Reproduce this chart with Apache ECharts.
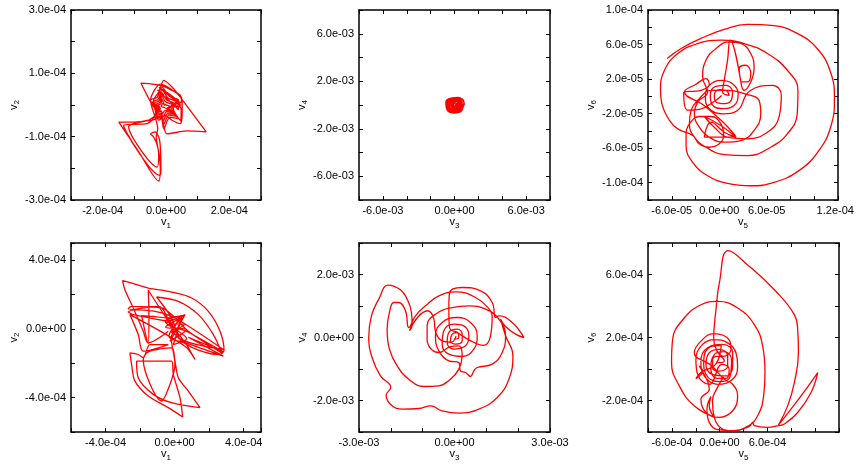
<!DOCTYPE html>
<html>
<head>
<meta charset="utf-8">
<script src="https://cdn.jsdelivr.net/npm/echarts@6/dist/echarts.min.js"></script>
<style>html,body{margin:0;padding:0;background:#fff}#c{width:859px;height:466px}</style>
</head>
<body>
<div id="c"></div>
<script>
// ---- Tick labels (actual values) ----
const P1_XTICKS = [-2e-4, 0, 2e-4];
const P1_YTICKS = [-3e-4, -1e-4, 1e-4, 3e-4];
const P2_XTICKS = [-6e-3, 0, 6e-3];
const P2_YTICKS = [-6e-3, -2e-3, 2e-3, 6e-3];
const P3_XTICKS = [-6e-5, 0, 6e-5, 1.2e-4];
const P3_YTICKS = [-1e-4, -6e-5, -2e-5, 2e-5, 6e-5, 1e-4];
const P4_XTICKS = [-4e-4, 0, 4e-4];
const P4_YTICKS = [-4e-4, 0, 4e-4];
const P5_XTICKS = [-3e-3, 0, 3e-3];
const P5_YTICKS = [-2e-3, 0, 2e-3];
const P6_XTICKS = [-6e-4, 0, 6e-4];
const P6_YTICKS = [-2e-4, 2e-4, 6e-4];

// ---- Trajectories [x, y] ----
// P1: v1 vs v2, units of 1e-5
const P1_UNIT = 1e-5;
const P1 = [[-2.3,-1.7],[-3.9,-0.6],[-6.0,3.1],[-7.3,5.7],[-7.9,6.9],[-4.9,6.7],[-1.3,6.1],[1.9,4.6],[4.5,3.1],[5.1,0.9],
[5.1,-2.7],[4.5,-5.9],[1.9,-4.8],[-0.2,-3.3],[-2.3,-4.8],[-3.4,-1.7],[-3.9,1.5],[-2.3,4.1],[-0.7,7.8],[1.9,5.7],[4.5,2.5],[12.7,-8.5],[6.6,-8.2],[0.3,-9.1],[-0.7,-6.9],[-1.3,-3.8],[-3.9,-3.8],[-5.5,-4.8],[-10.2,-5.4],[-14.9,-5.4],[-8.6,-14.8],[-2.3,-24.0],[-1.8,-19.6],[-2.6,-13.3],[-3.9,-10.1],[-4.9,-9.1],[-3.4,-8.5],[-2.0,-11.2],[-1.6,-20.5],[-2.0,-22.2],[-13.4,-6.4],[-9.2,-6.1],[-6.0,-5.9],[-4.4,-4.8],[-11.8,-6.9],[-2.8,-19.6],[-2.3,-15.4],[-3.1,-10.1],[-2.6,-7.5],
[-4.9,1.5],[-2.8,2.4],[-1.3,5.7],[1.0,2.8],[4.0,1.5],[2.3,-1.2],[4.0,-4.3],[1.2,-3.8],[-0.7,-7.5],[-1.6,-4.0],[-4.4,-4.8],[-3.0,-1.6],[-4.9,1.5],
[-1.8,6.6],[4.9,1.8],[4.7,0.8],[-2.2,5.6],[4.5,0.0],[4.2,-0.6],[-2.7,4.8],[4.0,-1.5],
[3.4,1.0],[1.8,-1.2],[3.3,-3.6],[0.9,-3.2],[-0.8,-6.2],[-1.6,-3.5],[-3.8,-4.0],[-2.7,-1.4],[-4.2,1.0],[-2.5,1.8],[-1.2,4.8],[0.6,2.2],[3.4,1.0],
[4.8,-1.5],[4.6,-5.0],[3.8,-4.0],
[2.6,-3.0],[0.5,-2.7],[-0.9,-5.0],[-1.6,-3.0],[-3.2,-3.3],[-2.4,-1.3],[-3.6,0.6],[-2.2,1.3],[-1.3,3.9],[0.2,1.6],[2.7,0.5],[1.2,-1.1],[2.6,-3.0],
[1.8,-2.4],[0.1,-2.2],[-1.0,-3.9],[-1.5,-2.5],[-2.6,-2.6],[-2.1,-1.2],[-3.0,0.3],[-1.9,0.8],[-1.3,2.9],[-0.2,1.0],[2.0,0.1],[0.7,-1.1],[1.8,-2.4],
[1.0,-1.8],[-0.4,-1.8],[-1.1,-2.8],[-1.5,-1.9],[-2.1,-2.0],[-1.8,-1.1],[-2.4,0.0],[-1.6,0.4],[-1.3,1.9],[-0.6,0.3],[1.2,-0.4],[0.2,-1.1],[1.0,-1.8],
[-0.5,-0.8],[-1.5,-0.5],[-1.0,0.5],[-0.3,-0.2]];

// P2: v3 vs v4, units of 1e-4
const P2_UNIT = 1e-4;
const P2 = [[0.5,0],[4,3.5],[0.5,6.2],[-4.5,4.8],[-7,0.5],[-5,-5],[0,-6.8],[5,-5.2],[7.5,-1],[7.8,2.5],[5,5.5],[0,6],[-5,4],[-6.5,-0.5],[-4,-5],[1,-6],[5.5,-4],[6.5,0.5],[4.5,4.5],[0,5],[-4,3],[-5.5,-1],[-3,-4.5],[1,-5],[4.5,-3],[5.5,1],[3,4],[-0.5,4],[-3.5,2],[-4,-1.5],[-1.5,-3.8],[2,-3.5],[4,-1],[3.5,2],[0.5,3],[-2,1.5],[-2.5,-1],[-0.5,-2.5],[1.5,-1.5],[2,0.5],[0.5,1.5],[-1,0.5],[-0.8,-1],[0.5,-0.8],[8.2,0.5],[7,4],[3,6.3],[-3,5.8],[-7.3,2],[-6.5,-3.5],[-3,-6.3],[2.5,-6.5],[6.5,-3.5],
[-6,2],[-3,5.5],[1.5,5.8],[5.5,3.5],[6.5,-1.5],[4,-5.5],[-1,-6.5],[-5.5,-3.8],[-6.2,1],[-4.5,3.6],[-1,4.7],[2.8,4.5],[5,2],[5,-2],[2.5,-4.8],[-1.5,-5.2],[-4.8,-2.5],[-5,0.8],[-2.8,3.3],[0.8,3.8],[3.8,2.6],[4.5,-0.5],[3,-3.5],[-0.5,-4.2],[-3.5,-2.8],[-3.8,0.5],[-1.5,2.5],[1.5,2.8],[3,0.5],[2.3,-2.3],[-0.5,-3],[-2.5,-1.5],[-2.2,0.8],[0,1.8],[1.5,0.5],[1,-1.5],[-0.8,-1.8],[-1.5,0],[0,0.5]];

// P3: v5 vs v6, units of 1e-5
const P3_UNIT = 1e-5;
const P3 = [[-6.58,4.38],[-4.82,5.54],[-2.31,6.71],[0.63,7.75],[3.56,8.33],[6.92,8.18],[9.85,7.29],[12.37,5.54],[14.05,2.83],[14.55,-0.27],[14.13,-3.37],[12.58,-6.28],[10.06,-8.60],[6.92,-9.96],[3.98,-10.35],[1.05,-10.08],[-1.47,-9.19],[-3.35,-7.64],[-4.19,-5.70],[-4.19,-4.34],
[-3.77,-3.18],[-2.52,-2.33],[-1.05,-2.33],[0.21,-3.18],[0.55,-4.53],[0,-5.50],[-1.26,-5.89],[-2.52,-5.50],[-3.35,-4.53],
[-5.24,-3.76],[-6.29,-2.79],[-7.25,-0.85],[-7.42,0.70],[-6.92,3.02],[-5.24,4.96],[-2.73,6.12],[0.21,6.51],[3.14,6.12],[6.08,4.96],[8.60,3.02],[9.94,0.70],[9.85,-2.02],[8.60,-4.34],[6.50,-5.89],[3.56,-6.86],[0.63,-6.74],[-1.68,-5.89],[-3.14,-4.73],[-3.77,-3.18],[-3.56,-1.63],[-2.52,-0.27],
[-1.05,0.70],[1.05,0.70],[3.14,0.31],[5.03,-0.47],[5.24,-2.02],[4.40,-3.95],[2.73,-5.12],[0.63,-5.31],[-1.26,-4.73],[-2.52,-3.57],[-3.14,-2.02],[-2.73,-0.66],[-1.47,0.50],
[-2.10,2.25],[-1.68,4.19],[-0.42,5.54],[1.26,6.32],[2.73,6.12],[3.98,4.96],[4.40,3.22],[3.98,1.67],[3.14,0.70],
[2.73,1.67],[3.56,1.67],[3.98,2.64],[3.35,3.60],[2.52,3.22],[2.73,1.67],
[1.38,6.51],[1.05,4.19],[0.63,1.86],[0.42,0.50],
[1.26,0.12],[0.84,0.70],[0,0.78],[-0.63,0.12],[-0.42,-0.66],[0.63,-0.85],[1.55,-0.39],[1.68,0.50],[0.84,1.28],[-0.42,1.16],[-1.13,0.12],[-0.84,-1.05],[0.63,-1.43],[2.10,-0.85],[2.39,0.31],[1.68,1.47],[0.21,1.86],[-1.26,1.28],[-1.76,0],[-1.26,-1.43],[0.42,-2.02],[2.31,-1.63],
[3.8,0.6],[6.71,1.28],[7.84,0.12],[7.55,-2.40],[6.08,-4.15],[3.56,-4.92],[1.05,-4.73],[-0.63,-3.57],
[-1.89,-2.33],[0.21,-3.37],[2.10,-4.73],[0.63,-4.15],[-1.05,-2.98],[-1.89,-4.73],[2.10,-4.65],[0.5,-3.0],
[-2.0,-1.0],[-4.40,0.50],[-2.94,1.40],[-1.68,2.05],[-1.26,1.40],[-2.31,0.70],[-4.49,0.47],[-4.0,-1.6],[-2.5,-1.5],[-0.5,-0.5],[0.3,0.1]];

// P4: v1 vs v2, units of 1e-5
const P4_UNIT = 1e-5;
const P4 = [[-3.67,-1.35],[-15.27,-8.12],[-18.16,-1.35],[-23.96,12.19],[-28.79,22.82],[-30.14,28.05],[-23.0,26.11],[-15.27,23.79],[-1.74,21.47],[9.86,17.99],[19.52,10.25],[26.28,-1.35],[28.60,-12.57],[25.31,-14.89],[4.06,-7.16],[-1.74,6.38],[-10.43,18.57],[2.13,16.05],[13.72,8.32],[22.42,-3.29],[27.25,-13.93],[7.92,-1.35],[-1.74,8.32],[-7.54,12.19],[-24.93,13.15],[-26.86,11.80],[-11.40,10.25],[0.19,6.38],[28.21,-11.99],[2.13,-5.22],[-9.47,13.15],[-26.86,9.86],[-23.96,8.32],[-3.67,4.45],
[-15.27,22.5],[-14.88,8.32],[-15.27,-8.70],[-19.13,7.74],[-1.74,5.42],
[-4.64,3.48],[5.99,8.32],[-2.71,-7.16],[6.96,-0.39],[-5.22,0.97],[4.06,6.38],[-0.77,-9.09],[6.96,-5.61],[-5.61,4.45],[5.02,7.93],[-3.29,-4.26],[6.38,-8.12],[-3.67,6.38],[3.09,7.35],[-1.74,-2.32],[5.60,2.51],[-1.74,2.90],[2.13,-3.29],[0.19,0.58],
[6.96,-1.5],[28.21,-13.35],[7.92,-4.84],[28.21,-15.86],[6.38,-8.12],[11.79,-17.80],[5.99,-10.06],
[-25.89,8.32],[-21.06,-3.29],[-18.16,-12.96],
[-3.67,-9.09],[-14.30,-9.09],[-18.16,-16.83],[-21.06,-14.89],[-25.89,-13.93],[-24.93,-20.70],[-23.0,-30.37],[-15.27,-39.07],[-3.67,-45.84],[4.64,-51.26],[3.09,-40.04],[-0.77,-26.50],[-1.74,-18.76],[-22.03,-18.76],[-21.06,-28.43],[-12.37,-38.10],[-1.74,-42.94],[14.69,-45.84],[7.92,-36.17],[2.13,-28.43],[0.19,-18.76],[-1.74,-11.03],[-15.27,-13.35],[-18.16,-17.80],[-7.54,-41.97],[-2.71,-32.30],[0.19,-20.70],[-2.0,-5.0],[3.0,2.0]];

// P5: v3 vs v4, units of 1e-4
const P5_UNIT = 1e-4;
const P5 = [[-0.21,-0.53],[1.36,0],[0.84,1.59],[-0.73,1.06],[-1.26,-1.06],[0.31,-2.12],[2.41,-1.06],[2.41,1.06],[0.84,2.65],[-1.78,1.59],[-2.31,-1.59],[-0.21,-3.70],[3.46,-2.65],[4.51,0.53],[2.94,3.70],[-0.21,4.23],[-3.35,2.12],[-3.88,-2.12],[-1.78,-5.29],[2.41,-6.03],[6.08,-3.70],[7.13,0.53],[5.03,4.76],[0.84,6.35],[-3.88,4.76],[-5.97,0.53],[-4.93,-4.23],[-1.78,-7.41],[1.36,-7.94],
[1.89,-10.58],[3.46,-11.11],[5.03,-12.38],[6.08,-10.58],[7.13,-9.52],
[11.84,-8.47],[14.99,-4.76],[16.04,0.53],[13.94,5.82],[9.75,8.99],[4.51,10.05],[-0.73,9.52],[-5.97,7.41],[-8.60,3.70],[-8.60,-0.53],[-7.5,-3.5],[-4.93,-4.76],[-1.5,-3.0],[1.36,-2.65],
[2.41,-5.82],[1.36,-10.05],[-1.26,-13.23],[-4.93,-15.34],[-9.64,-15.56],[-14.36,-13.23],[-18.03,-8.99],[-20.44,-3.70],[-21.17,2.65],[-20.44,7.94],[-19.08,11.11],[-17.51,11.11],[-15.41,8.47],[-14.36,3.17],
[-12.26,6.88],[-9.12,10.05],[-4.93,13.23],[0.5,14.5],[6.60,12.70],[10.5,9.5],[11.84,6.88],[11.32,0.53],[9.0,-2.5],
[5.0,-1.0],[1.0,1.5],[-1.57,3.17],[-1.78,8.99],[-1.57,14.07],[2.41,15.87],[8.18,14.81],[11.84,11.11],[12.89,6.35],
[13.94,6.88],[18.13,4.76],[21.80,0],[19.18,1.06],[16.04,3.49],[14.47,5.82],
[16.04,0.53],[18.34,-5.82],[17.09,-13.23],[13.42,-19.05],[7.65,-22.75],[1.36,-24.02],[-3.88,-23.28],[-7.55,-21.69],[-11.22,-22.54],[-16.46,-22.75],[-19.60,-21.69],[-21.49,-18.31],[-20.02,-15.87],[-23.27,-12.17],[-25.89,-6.35],[-26.94,0],[-26.10,6.88],[-23.79,12.17],[-20.86,16.61],[-16.98,15.13],[-14.88,12.17],[-13.52,7.94],[-13.31,3.70],[-14.15,2.12],
[-11.5,6.5],[-8.5,8.5],[-6.5,6.0],[-6.0,2.0],[-4.0,-1.0],[-1.0,-1.5],[0.5,0.5]];

// P6: v5 vs v6, units of 1e-4
const P6_UNIT = 1e-4;
const P6 = [[-0.25,0.40],[0.59,0.51],[-0.04,0.82],[-0.88,0.61],[-0.88,0.08],[-0.04,-0.13],[1.01,0.19],[1.01,0.82],[-0.04,1.24],[-1.30,1.03],[-1.72,0.29],[-0.88,-0.34],[0.80,-0.44],[1.64,0.19],[1.64,1.03],[0.38,1.56],[-1.51,1.35],[-2.35,0.51],[-1.93,-0.44],[-0.25,-0.97],[1.64,-0.65],[2.26,0.19],[2.05,1.03],[1.01,1.66],[-0.67,1.87],[-2.14,1.56],[-2.98,0.61],[-2.77,-0.34],[-1.30,-0.97],
[0.3,0.3],[1.2,0.0],[0.8,-0.6],[-0.3,-0.6],[-1.1,0.0],[-0.7,0.9],[0.5,1.1],[1.5,0.6],[1.3,-0.5],[0.0,-0.8],[-1.5,-0.5],[-2.0,0.5],[-1.2,1.4],[0.2,1.5],[-0.5,0.3],[-2.3,-0.2],
[-2.98,-0.61],[-2.14,-0.13],[-2.56,0.19],[-1.5,-0.8],
[-1.30,-1.28],[-2.35,-1.92],[-1.72,-2.76],[-0.04,-3.07],[1.64,-2.65],[2.26,-1.71],[1.64,-0.97],[0.59,-0.65],
[-1.0,0.2],[-3.19,1.03],[-2.35,1.77],[-0.75,2.25],[1.22,1.83],[1.43,1.24],[0.5,0.8],[-0.75,1.98],
[-0.67,2.72],[-0.46,3.77],[-0.04,5.45],[1.09,7.52],[3.52,6.61],[6.88,5.03],[9.39,3.45],[9.81,2.51],[9.90,1.03],[9.39,-0.86],[8.55,-2.34],[7.38,-3.56],[8.97,-2.55],[10.86,-1.28],[12.33,-0.23],[11.49,-1.49],[9.81,-2.76],[8.13,-3.49],[7.38,-3.60],
[6.04,-3.71],[4.36,-3.60],[4.15,-3.39],[3.73,-3.64],[1.84,-3.92],[-0.25,-3.85],[-1.30,-3.39],[-1.59,-2.55],[-1.09,-1.75],[-1.30,-2.34],
[-0.67,-3.07],[-3.19,-2.34],[-5.07,-1.07],[-6.04,0.40],[-5.91,1.87],[-4.44,3.24],[-2.35,4.08],[-0.25,4.29],[2.26,3.87],[4.36,2.82],[5.41,1.45],[5.70,-0.23],[5.53,-1.71],[4.78,-2.97],[3.52,-3.64],[1.43,-3.92],[0.3,-3.8],[-0.67,-3.07],[-0.9,-2.0],[-0.3,-1.2],[0.5,-0.5]];

// ---- Layout ----
const FONT = '"Liberation Sans", Arial, Helvetica, sans-serif';
const panels = [
  {grid:{left:71, top:10, width:190, height:190}, pts:P1, unit:P1_UNIT, xr:[-3e-4,3e-4,1e-4], yr:[-3e-4,3e-4,1e-4], xt:P1_XTICKS, yt:P1_YTICKS, xn:'1', yn:'2', smooth:0.25},
  {grid:{left:359, top:10, width:191, height:190}, pts:P2, unit:P2_UNIT, xr:[-8e-3,8e-3,2e-3], yr:[-8e-3,8e-3,2e-3], xt:P2_XTICKS, yt:P2_YTICKS, xn:'3', yn:'4', smooth:0.5},
  {grid:{left:648, top:10, width:190, height:190}, pts:P3, unit:P3_UNIT, xr:[-9e-5,1.5e-4,3e-5], yr:[-1.2e-4,1e-4,2e-5], xt:P3_XTICKS, yt:P3_YTICKS, xn:'5', yn:'6', shift:1.2e-4, smooth:0.45},
  {grid:{left:71, top:243, width:190, height:189}, pts:P4, unit:P4_UNIT, xr:[-6e-4,5e-4,2e-4], yr:[-6e-4,5e-4,2e-4], xt:P4_XTICKS, yt:P4_YTICKS, xn:'1', yn:'2', smooth:0.3},
  {grid:{left:359, top:243, width:191, height:189}, pts:P5, unit:P5_UNIT, xr:[-3e-3,3e-3,1e-3], yr:[-3e-3,3e-3,1e-3], xt:P5_XTICKS, yt:P5_YTICKS, xn:'3', yn:'4', smooth:0.45},
  {grid:{left:648, top:243, width:191, height:189}, pts:P6, unit:P6_UNIT, xr:[-9e-4,1.5e-3,3e-4], yr:[-4e-4,8e-4,2e-4], xt:P6_XTICKS, yt:P6_YTICKS, xn:'5', yn:'6', smooth:0.45}
];

function fmt(v){
  if (Math.abs(v) < 1e-15) return '0.0e+00';
  const s = v.toExponential(1);
  const parts = s.split('e');
  let e = parts[1]; const sign = e[0]; let d = e.slice(1);
  if (d.length < 2) d = '0' + d;
  return parts[0] + 'e' + sign + d;
}
function makeFmt(list, step, shift){
  return function(v){
    for (const L of list){
      if (Math.abs(v - L) < step*1e-3){
        const s = fmt(L);
        if (shift !== undefined && Math.abs(L - shift) < step*1e-3) return '{r|' + s + '}';
        return s;
      }
    }
    return '';
  };
}

const lineStyle = {color:'#000', width:1.5};
const grids = [], xAxes = [], yAxes = [], series = [];
const nameRich = {s:{fontSize:8, fontFamily:FONT, color:'#000', padding:[6,0,0,0]}};

panels.forEach((p, i) => {
  grids.push(Object.assign({containLabel:false}, p.grid));
  const baseX = {type:'value', gridIndex:i, min:p.xr[0], max:p.xr[1], interval:p.xr[2], splitLine:{show:false},
    axisLine:{show:true, onZero:false, lineStyle:lineStyle}, axisTick:{show:true, inside:true, length:4, lineStyle:{color:'#000', width:1}}};
  const baseY = {type:'value', gridIndex:i, min:p.yr[0], max:p.yr[1], interval:p.yr[2], splitLine:{show:false},
    axisLine:{show:true, onZero:false, lineStyle:lineStyle}, axisTick:{show:true, inside:true, length:4, lineStyle:{color:'#000', width:1}}};
  xAxes.push(Object.assign({}, baseX, {position:'bottom',
    name:'v{s|' + p.xn + '}', nameLocation:'middle', nameGap:15,
    nameTextStyle:{fontSize:11, fontFamily:FONT, color:'#000', rich:nameRich},
    axisLabel:{show:true, margin:5, fontSize:11, fontFamily:FONT, color:'#000', showMinLabel:true, showMaxLabel:true,
      formatter:makeFmt(p.xt, p.xr[2], p.shift), rich:{r:{fontSize:11, fontFamily:FONT, color:'#000', padding:[0,0,0,42]}}}}));
  xAxes.push(Object.assign({}, baseX, {position:'top', axisLabel:{show:false}}));
  yAxes.push(Object.assign({}, baseY, {position:'left',
    name:'v{s|' + p.yn + '}', nameLocation:'middle', nameGap:49,
    nameTextStyle:{fontSize:11, fontFamily:FONT, color:'#000', rich:nameRich},
    axisLabel:{show:true, margin:5, fontSize:11, fontFamily:FONT, color:'#000', showMinLabel:true, showMaxLabel:true,
      formatter:makeFmt(p.yt, p.yr[2])}}));
  yAxes.push(Object.assign({}, baseY, {position:'right', axisLabel:{show:false}}));
  series.push({type:'line', xAxisIndex:2*i, yAxisIndex:2*i, showSymbol:false, symbol:'none', clip:true, animation:false,
    smooth:p.smooth, lineStyle:{color:'#ff0000', width:1.3}, data:p.pts.map(q => [q[0]*p.unit, q[1]*p.unit])});
});

const chart = echarts.init(document.getElementById('c'), null, {renderer:'canvas'});
chart.setOption({animation:false, backgroundColor:'#fff', grid:grids, xAxis:xAxes, yAxis:yAxes, series:series});
</script>
</body>
</html>
